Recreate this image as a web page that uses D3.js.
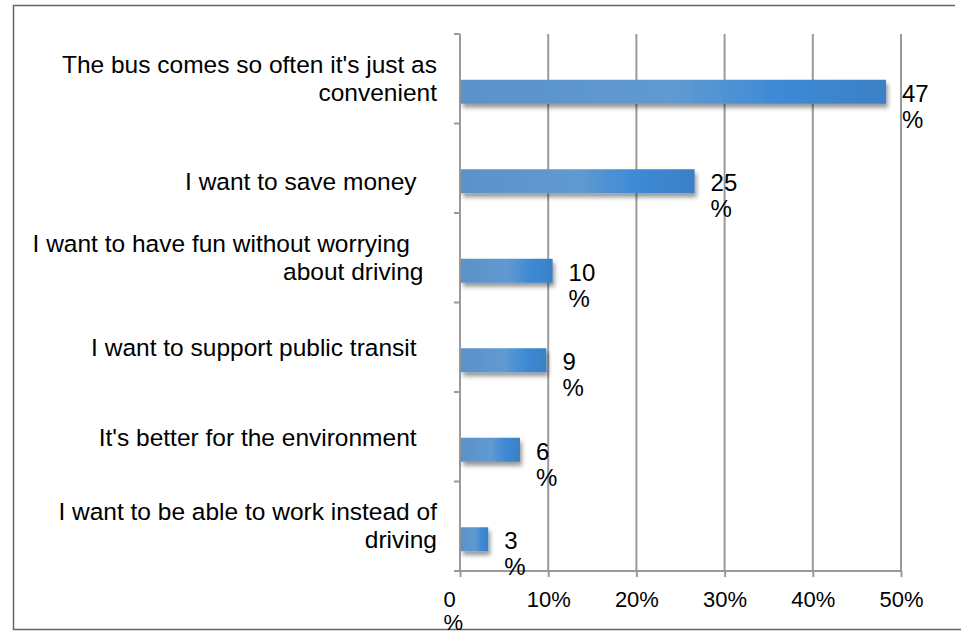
<!DOCTYPE html>
<html>
<head>
<meta charset="utf-8">
<script src="https://cdnjs.cloudflare.com/ajax/libs/d3/7.8.5/d3.min.js"></script>
<style>
  body { margin: 0; background: #fff; }
  text { font-family: "Liberation Sans", Arial, sans-serif; fill: #000; white-space: pre; }
</style>
</head>
<body>
<div id="chart"></div>
<script>
// category labels, already split where the reference wraps them
const categories = [
    ["The bus comes so often it's just as", "convenient"],
    ["", "I want to save money   "],
    ["I want to have fun without worrying    ", "about driving  "],
    ["I want to support public transit   "],
    ["It's better for the environment   "],
    ["I want to be able to work instead of", "driving"]
];
// bar lengths (percent)
const values = [48.3, 26.6, 10.5, 9.8, 6.8, 3.2];
// data labels as printed next to the bars
const valueLabels = ["47", "25", "10", "9", "6", "3"];
const xTicks = [0, 10, 20, 30, 40, 50];

const width = 961, height = 632;
const margin = {top: 34, left: 460, right: 60, bottom: 61};

const svg = d3.select("#chart").append("svg")
    .attr("width", width)
    .attr("height", height);

// frame
svg.append("path")
    .attr("d", `M955,5.5H13.5V629.5H961`)
    .attr("fill", "none")
    .attr("stroke", "#666")
    .attr("stroke-width", 1.5);

const defs = svg.append("defs");
const grad = defs.append("linearGradient").attr("id", "barGrad")
    .attr("x1", "0%").attr("x2", "100%").attr("y1", "0%").attr("y2", "0%");
grad.append("stop").attr("offset", "0%").attr("stop-color", "#5a92c9");
grad.append("stop").attr("offset", "50%").attr("stop-color", "#609ad1");
grad.append("stop").attr("offset", "75%").attr("stop-color", "#3e8ad6");
grad.append("stop").attr("offset", "100%").attr("stop-color", "#3a80c4");

const shadow = defs.append("filter").attr("id", "shadow")
    .attr("x", "-10%").attr("y", "-30%").attr("width", "130%").attr("height", "190%");
shadow.append("feDropShadow")
    .attr("dx", 2).attr("dy", 4).attr("stdDeviation", 2)
    .attr("flood-color", "#000").attr("flood-opacity", 0.4);

const x = d3.scaleLinear()
    .domain([0, 50])
    .range([margin.left, width - margin.right]);

const y = d3.scaleBand()
    .domain(d3.range(categories.length))
    .range([margin.top, height - margin.bottom]);

const bw = y.bandwidth();

// gridlines
svg.append("g")
    .selectAll("line")
    .data(xTicks.slice(1))
    .join("line")
    .attr("x1", d => x(d)).attr("x2", d => x(d))
    .attr("y1", margin.top).attr("y2", height - margin.bottom)
    .attr("stroke", "#9a9a9a")
    .attr("stroke-width", 2);

// x axis
const xAxis = svg.append("g")
    .attr("transform", `translate(0,${height - margin.bottom})`)
    .call(d3.axisBottom(x).tickValues(xTicks).tickSize(6).tickSizeOuter(0)
        .tickFormat(d => d + "%"));
xAxis.select(".domain").remove();
xAxis.selectAll(".tick line").attr("stroke", "#9a9a9a").attr("stroke-width", 2);
xAxis.selectAll(".tick text")
    .attr("font-size", 22)
    .attr("font-family", "Liberation Sans, Arial, sans-serif")
    .attr("dy", null)
    .attr("y", 36);
// the 0% label wraps in the reference
xAxis.selectAll(".tick text").filter(d => d === 0)
    .text(null)
    .attr("text-anchor", "start")
    .call(t => {
        t.append("tspan").attr("x", -17).attr("y", 36).text("0");
        t.append("tspan").attr("x", -17).attr("y", 59).text("%");
    });
svg.append("line")
    .attr("x1", x(0) - 6).attr("x2", x(50))
    .attr("y1", height - margin.bottom).attr("y2", height - margin.bottom)
    .attr("stroke", "#9a9a9a").attr("stroke-width", 2);

// y axis
svg.append("line")
    .attr("x1", x(0)).attr("x2", x(0))
    .attr("y1", margin.top).attr("y2", height - margin.bottom)
    .attr("stroke", "#9a9a9a").attr("stroke-width", 2);
svg.append("g")
    .selectAll("line")
    .data(d3.range(categories.length + 1))
    .join("line")
    .attr("x1", x(0) - 6).attr("x2", x(0))
    .attr("y1", d => margin.top + d * bw).attr("y2", d => margin.top + d * bw)
    .attr("stroke", "#9a9a9a").attr("stroke-width", 2);

// bars
svg.append("g")
    .selectAll("rect")
    .data(values)
    .join("rect")
    .attr("x", x(0) + 1)
    .attr("y", (d, i) => y(i) + bw / 2 + 1)
    .attr("width", d => x(d) - x(0) - 1)
    .attr("height", 24)
    .attr("fill", "url(#barGrad)")
    .attr("filter", "url(#shadow)");

// value labels, wrapped onto two lines like the reference
const vl = svg.append("g")
    .selectAll("text")
    .data(values)
    .join("text")
    .attr("font-size", 24);
vl.append("tspan")
    .attr("x", d => x(d) + 16)
    .attr("y", (d, i) => y(i) + bw / 2 + 23)
    .text((d, i) => valueLabels[i]);
vl.append("tspan")
    .attr("x", d => x(d) + 16)
    .attr("y", (d, i) => y(i) + bw / 2 + 49)
    .text("%");

// category labels
const cl = svg.append("g")
    .selectAll("text")
    .data(categories)
    .join("text")
    .attr("font-size", 24.5)
    .attr("text-anchor", "end");
cl.each(function(lines, i) {
    const c = y(i) + bw / 2;
    const t = d3.select(this);
    if (lines.length === 1) {
        t.append("tspan").attr("x", 437).attr("y", c + 9).text(lines[0]);
    } else {
        lines.forEach((l, j) => {
            t.append("tspan").attr("x", 437).attr("y", c - 6 + j * 28).text(l);
        });
    }
});
</script>
</body>
</html>
